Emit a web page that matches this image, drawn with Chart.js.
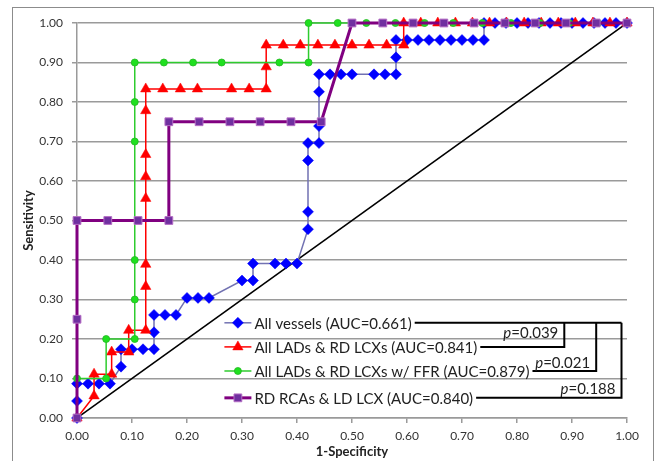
<!DOCTYPE html>
<html>
<head>
<meta charset="utf-8">
<title>ROC curves</title>
<script src="https://cdn.jsdelivr.net/npm/chart.js"></script>
<style>
  html, body { margin: 0; padding: 0; background: #fff; }
  canvas { display: block; }
</style>
</head>
<body>
<canvas id="roc-chart" width="655" height="461"></canvas>
<script>
// ROC points (x = 1-Specificity, y = Sensitivity)
const vesselsX = [0, 0, 0, 0.02, 0.04, 0.06, 0.08, 0.08, 0.10, 0.12, 0.14, 0.14, 0.14, 0.16, 0.18,
  0.20, 0.22, 0.24, 0.30, 0.32, 0.32, 0.36, 0.38, 0.40, 0.42, 0.42, 0.42, 0.42, 0.44, 0.44, 0.44,
  0.44, 0.46, 0.48, 0.50, 0.54, 0.56, 0.58, 0.58, 0.58, 0.60, 0.62, 0.64, 0.66, 0.68, 0.70, 0.72,
  0.74, 0.74, 0.76, 0.78, 0.80, 0.82, 0.84, 0.86, 0.88, 0.90, 0.92, 0.94, 0.96, 0.98, 1.00];
const vesselsY = [0, 0.043, 0.087, 0.087, 0.087, 0.087, 0.130, 0.174, 0.174, 0.174, 0.174, 0.217, 0.261, 0.261, 0.261,
  0.304, 0.304, 0.304, 0.348, 0.348, 0.391, 0.391, 0.391, 0.391, 0.478, 0.522, 0.652, 0.696, 0.696, 0.739, 0.826,
  0.870, 0.870, 0.870, 0.870, 0.870, 0.870, 0.870, 0.913, 0.957, 0.957, 0.957, 0.957, 0.957, 0.957, 0.957, 0.957,
  0.957, 1, 1, 1, 1, 1, 1, 1, 1, 1, 1, 1, 1, 1, 1];

const ladX = [0, 0.031, 0.031, 0.063, 0.063, 0.094, 0.094, 0.125, 0.125, 0.125, 0.125, 0.125, 0.125, 0.125, 0.125,
  0.156, 0.188, 0.219, 0.281, 0.313, 0.344, 0.344, 0.344, 0.375, 0.406, 0.438, 0.469, 0.500, 0.531, 0.563,
  0.594, 0.594, 0.625, 0.656, 0.688, 0.719, 0.750, 0.781, 0.813, 0.844, 0.875, 0.906, 0.938, 0.969, 1.000];
const ladY = [0, 0.056, 0.111, 0.111, 0.167, 0.167, 0.222, 0.222, 0.333, 0.389, 0.556, 0.611, 0.667, 0.778, 0.833,
  0.833, 0.833, 0.833, 0.833, 0.833, 0.833, 0.889, 0.944, 0.944, 0.944, 0.944, 0.944, 0.944, 0.944, 0.944,
  0.944, 1, 1, 1, 1, 1, 1, 1, 1, 1, 1, 1, 1, 1, 1];

const ffrX = [0, 0, 0.053, 0.053, 0.105, 0.105, 0.105, 0.105, 0.105, 0.105, 0.158, 0.211, 0.263, 0.368,
  0.421, 0.421, 0.474, 0.526, 0.579, 0.632, 0.684, 0.737, 0.789, 0.842, 0.895, 0.947, 1.000];
const ffrY = [0, 0.1, 0.1, 0.2, 0.2, 0.3, 0.4, 0.7, 0.8, 0.9, 0.9, 0.9, 0.9, 0.9,
  0.9, 1, 1, 1, 1, 1, 1, 1, 1, 1, 1, 1, 1];

const rcaX = [0, 0, 0, 0.056, 0.111, 0.167, 0.167, 0.222, 0.278, 0.333, 0.389, 0.444,
  0.500, 0.556, 0.611, 0.667, 0.722, 0.778, 0.833, 0.889, 0.944, 1.000];
const rcaY = [0, 0.25, 0.5, 0.5, 0.5, 0.5, 0.75, 0.75, 0.75, 0.75, 0.75, 0.75,
  1, 1, 1, 1, 1, 1, 1, 1, 1, 1];

const chanceX = [0, 1];
const chanceY = [0, 1];

const seriesLabels = [
  'All vessels (AUC=0.661)',
  'All LADs & RD LCXs (AUC=0.841)',
  'All LADs & RD LCXs w/ FFR (AUC=0.879)',
  'RD RCAs & LD LCX (AUC=0.840)'
];
const pValues = ['0.039', '0.021', '0.188'];
const tickValues = [0, 0.1, 0.2, 0.3, 0.4, 0.5, 0.6, 0.7, 0.8, 0.9, 1];

const toPoints = (xs, ys) => xs.map((x, i) => ({ x: x, y: ys[i] }));
const FONT = 'Lato, "Liberation Sans", sans-serif';

// legend drawn inside the plot area, with the p-value brackets
const insideLegend = {
  id: 'insideLegend',
  afterDraw(chart) {
    const ctx = chart.ctx;
    const xs = chart.scales.x, ys = chart.scales.y;
    const left = xs.getPixelForValue(0.268);
    const rows = [0.241, 0.180, 0.119, 0.051].map(v => ys.getPixelForValue(v));
    const ends = [];
    ctx.save();
    ctx.font = '15px ' + FONT;
    ctx.textBaseline = 'middle';
    seriesLabels.forEach((label, i) => {
      const ds = chart.data.datasets[i];
      const y = rows[i];
      ctx.strokeStyle = ds.borderColor;
      ctx.lineWidth = ds.borderWidth;
      ctx.beginPath();
      ctx.moveTo(left, y);
      ctx.lineTo(left + 27, y);
      ctx.stroke();
      const opts = {
        pointStyle: ds.pointStyle, radius: ds.pointRadius, rotation: 0,
        borderWidth: ds.pointBorderWidth
      };
      ctx.fillStyle = ds.pointBackgroundColor;
      ctx.strokeStyle = ds.pointBorderColor;
      ctx.lineWidth = ds.pointBorderWidth;
      Chart.helpers.drawPoint(ctx, opts, left + 13.5, y);
      ctx.fillStyle = '#222';
      ctx.fillText(label, left + 30, y + 1);
      ends.push(left + 30 + ctx.measureText(label).width + 3);
    });

    // brackets
    const bx = [0.886, 0.944, 0.990].map(v => xs.getPixelForValue(v));
    ctx.strokeStyle = '#000';
    ctx.lineWidth = 2;
    ctx.beginPath();
    ctx.moveTo(ends[0], rows[0]);
    ctx.lineTo(bx[2], rows[0]);
    for (let k = 0; k < 3; k++) {
      ctx.moveTo(bx[k], rows[0]);
      ctx.lineTo(bx[k], rows[k + 1]);
      ctx.lineTo(ends[k + 1], rows[k + 1]);
    }
    ctx.stroke();

    // p-value labels
    const py = [0.214, 0.140, 0.072].map(v => ys.getPixelForValue(v));
    pValues.forEach((p, k) => {
      const rest = '=' + p;
      ctx.font = '15px ' + FONT;
      const wRest = ctx.measureText(rest).width;
      ctx.font = 'italic 15px ' + FONT;
      const wP = ctx.measureText('p').width;
      const right = bx[k] - 6;
      ctx.fillStyle = '#222';
      ctx.fillText('p', right - wRest - wP, py[k]);
      ctx.font = '15px ' + FONT;
      ctx.fillText(rest, right - wRest, py[k]);
    });
    ctx.restore();
  }
};

// thin frame round the whole chart
const chartFrame = {
  id: 'chartFrame',
  beforeDraw(chart) {
    const ctx = chart.ctx;
    ctx.save();
    ctx.fillStyle = '#fff';
    ctx.fillRect(0, 0, chart.width, chart.height);
    ctx.strokeStyle = '#8c8c8c';
    ctx.lineWidth = 1;
    ctx.strokeRect(12.5, 7.5, chart.width - 14, chart.height + 10);
    ctx.restore();
  }
};

const axisGrey = '#9a9a9a';
const tickFont = { family: FONT, size: 12 };
const titleFont = { family: FONT, size: 13, weight: 'bold' };

new Chart(document.getElementById('roc-chart').getContext('2d'), {
  type: 'scatter',
  data: {
    datasets: [
      {
        label: seriesLabels[0],
        data: toPoints(vesselsX, vesselsY),
        showLine: true,
        borderColor: '#7272b2',
        borderWidth: 1.5,
        pointStyle: 'rectRot',
        pointRadius: 5.5,
        pointBackgroundColor: '#0000ff',
        pointBorderColor: '#0000ff',
        pointBorderWidth: 0.5,
        order: 4,
        clip: false
      },
      {
        label: seriesLabels[1],
        data: toPoints(ladX, ladY),
        showLine: true,
        borderColor: '#ff0000',
        borderWidth: 1.5,
        pointStyle: 'triangle',
        pointRadius: 6,
        pointBackgroundColor: '#ff0000',
        pointBorderColor: '#ff0000',
        pointBorderWidth: 0.5,
        order: 3,
        clip: false
      },
      {
        label: seriesLabels[2],
        data: toPoints(ffrX, ffrY),
        showLine: true,
        borderColor: '#2ecc2e',
        borderWidth: 1.5,
        pointStyle: 'circle',
        pointRadius: 3.5,
        pointBackgroundColor: '#1fe01f',
        pointBorderColor: '#22b822',
        pointBorderWidth: 0.8,
        order: 2,
        clip: false
      },
      {
        label: seriesLabels[3],
        data: toPoints(rcaX, rcaY),
        showLine: true,
        borderColor: '#800080',
        borderWidth: 3,
        pointStyle: 'rect',
        pointRadius: 5.5,
        pointBackgroundColor: '#7030a0',
        pointBorderColor: '#b46cc4',
        pointBorderWidth: 1,
        order: 1,
        clip: false
      },
      {
        label: 'chance',
        data: toPoints(chanceX, chanceY),
        showLine: true,
        borderColor: '#000000',
        borderWidth: 1.5,
        pointRadius: 0,
        order: 5
      }
    ]
  },
  options: {
    responsive: false,
    animation: false,
    events: [],
    layout: { padding: { top: 23, right: 28, left: 0, bottom: 0 } },
    plugins: {
      legend: { display: false },
      tooltip: { enabled: false }
    },
    scales: {
      x: {
        type: 'linear',
        min: 0,
        max: 1,
        afterBuildTicks: s => { s.ticks = tickValues.map(v => ({ value: v })); },
        ticks: { callback: v => v.toFixed(2), font: tickFont, color: '#333', padding: 6, maxRotation: 0 },
        grid: { drawOnChartArea: false, drawTicks: true, tickLength: 5, color: axisGrey, lineWidth: 1.5 },
        border: { color: axisGrey, width: 1.5 },
        title: {
          display: true, text: '1-Specificity', color: '#222',
          font: titleFont,
          padding: { top: 0, bottom: 1 }
        },
        afterFit: s => { s.height = 43; }
      },
      y: {
        min: 0,
        max: 1,
        afterBuildTicks: s => { s.ticks = tickValues.map(v => ({ value: v })); },
        ticks: { callback: v => v.toFixed(2), font: tickFont, color: '#333', padding: 9 },
        grid: { color: axisGrey, lineWidth: 1.5, tickLength: 5, drawTicks: true },
        border: { color: axisGrey, width: 1.5 },
        title: {
          display: true, text: 'Sensitivity', color: '#222',
          font: titleFont,
          padding: { top: 21, bottom: 0 }
        },
        afterFit: s => { s.width = 77; }
      }
    }
  },
  plugins: [chartFrame, insideLegend]
});
</script>
</body>
</html>
